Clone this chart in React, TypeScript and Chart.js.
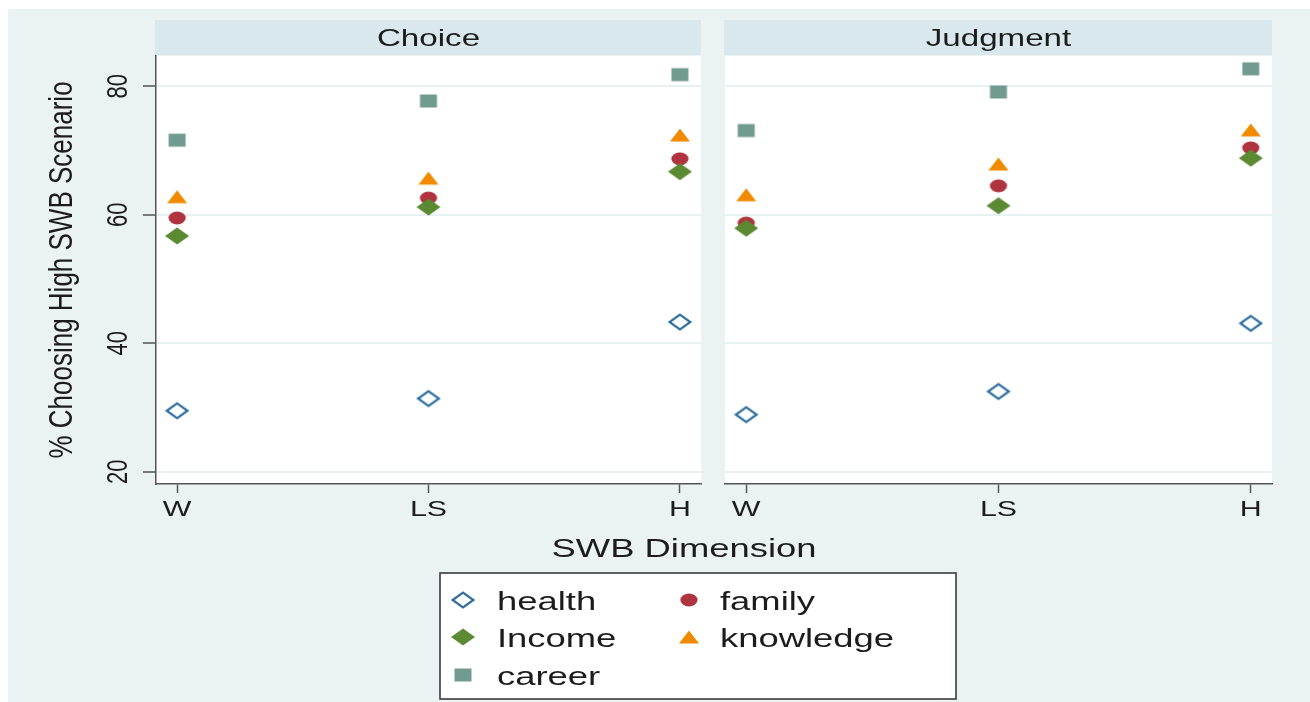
import React, { useEffect, useRef } from 'react';
import { Chart, registerables } from 'chart.js';

Chart.register(...registerables);

// ---------------- data ----------------
const CATEGORIES = ['W', 'LS', 'H'];
const PANELS = ['Choice', 'Judgment'];
const Y_TICKS = [20, 40, 60, 80];
const SERIES_NAMES = ['health', 'family', 'Income', 'knowledge', 'career'];

const CHOICE_HEALTH = [29.5, 31.4, 43.3];
const CHOICE_FAMILY = [59.5, 62.6, 68.7];
const CHOICE_INCOME = [56.7, 61.2, 66.7];
const CHOICE_KNOWLEDGE = [62.8, 65.7, 72.4];
const CHOICE_CAREER = [71.6, 77.7, 81.8];

const JUDGMENT_HEALTH = [28.9, 32.5, 43.1];
const JUDGMENT_FAMILY = [58.7, 64.5, 70.4];
const JUDGMENT_INCOME = [57.9, 61.4, 68.8];
const JUDGMENT_KNOWLEDGE = [63.1, 67.9, 73.2];
const JUDGMENT_CAREER = [73.1, 79.1, 82.7];

const Y_TITLE = '% Choosing High SWB Scenario';
const X_TITLE = 'SWB Dimension';

// ---------------- styles ----------------
const SERIES_COLORS = ['#2f6e9e', '#b0343f', '#5b8a33', '#f28a00', '#729b8f'];
const SERIES_MARKERS = ['hollowDiamond', 'circle', 'diamond', 'triangle', 'square'];
const OUTER_BG = '#eaf3f2';
const HEADER_BG = '#d8e8ed';
const GRID = '#e8f1f1';
const AXIS = '#555555';
const TEXT = '#1c1c1c';
const FONT = '"Liberation Sans", Arial, Helvetica, sans-serif';
const SX = 1.38;

const W = 1310;
const H = 702;
const X_MIN = -0.084;
const X_MAX = 2.084;
const Y_MIN = 18.1;
const Y_MAX = 84.7;

function makeMarker(kind: string, color: string): HTMLCanvasElement {
  const c = document.createElement('canvas');
  c.width = 28;
  c.height = 22;
  const ctx = c.getContext('2d')!;
  const cx = 14;
  const cy = 11;
  ctx.fillStyle = color;
  ctx.strokeStyle = color;
  ctx.beginPath();
  if (kind === 'hollowDiamond') {
    const hw = 10.4, hh = 7.4;
    ctx.lineWidth = 2.2;
    ctx.moveTo(cx, cy - hh);
    ctx.lineTo(cx + hw, cy);
    ctx.lineTo(cx, cy + hh);
    ctx.lineTo(cx - hw, cy);
    ctx.closePath();
    ctx.stroke();
  } else if (kind === 'diamond') {
    const hw = 12, hh = 8.6;
    ctx.moveTo(cx, cy - hh);
    ctx.lineTo(cx + hw, cy);
    ctx.lineTo(cx, cy + hh);
    ctx.lineTo(cx - hw, cy);
    ctx.closePath();
    ctx.fill();
  } else if (kind === 'circle') {
    ctx.ellipse(cx, cy, 8.6, 6.4, 0, 0, Math.PI * 2);
    ctx.fill();
  } else if (kind === 'triangle') {
    ctx.moveTo(cx, cy - 6.6);
    ctx.lineTo(cx + 10, cy + 6.6);
    ctx.lineTo(cx - 10, cy + 6.6);
    ctx.closePath();
    ctx.fill();
  } else {
    ctx.rect(cx - 8.5, cy - 6.5, 17, 13);
    ctx.fill();
  }
  return c;
}

function drawText(
  ctx: CanvasRenderingContext2D,
  s: string,
  x: number,
  y: number,
  size: number,
  align: CanvasTextAlign = 'center',
  rotated = false,
  sx = SX
) {
  ctx.save();
  ctx.translate(x, y);
  if (rotated) {
    ctx.rotate(-Math.PI / 2);
    ctx.scale(1, sx);
  } else {
    ctx.scale(sx, 1);
  }
  ctx.font = `${size}px ${FONT}`;
  ctx.fillStyle = TEXT;
  ctx.textAlign = align;
  ctx.textBaseline = 'alphabetic';
  ctx.fillText(s, 0, 0);
  ctx.restore();
}

function panelPlugin(title: string, isFirst: boolean, markers: HTMLCanvasElement[]) {
  return {
    id: 'panel' + title,
    beforeDraw(chart: any) {
      const ctx: CanvasRenderingContext2D = chart.ctx;
      const a = chart.chartArea;
      ctx.save();
      if (isFirst) {
        ctx.fillStyle = '#ffffff';
        ctx.fillRect(0, 0, chart.width, chart.height);
        ctx.fillStyle = OUTER_BG;
        ctx.fillRect(8, 9, chart.width - 8, chart.height - 9);
      }
      ctx.fillStyle = HEADER_BG;
      ctx.fillRect(a.left - 1, 20, a.right - a.left + 1, 35);
      ctx.fillStyle = '#ffffff';
      ctx.fillRect(a.left, a.top, a.right - a.left, a.bottom - a.top);
      ctx.restore();
    },
    afterDraw(chart: any) {
      const ctx: CanvasRenderingContext2D = chart.ctx;
      const a = chart.chartArea;
      const xs = chart.scales.x;
      const ys = chart.scales.y;
      drawText(ctx, title, (a.left + a.right) / 2, 46, 24);
      xs.ticks.forEach((t: any) => {
        const px = xs.getPixelForValue(t.value);
        drawText(ctx, CATEGORIES[Math.round(t.value)], px, 516, 22);
      });
      if (!isFirst) return;
      ys.ticks.forEach((t: any) => {
        const py = ys.getPixelForValue(t.value);
        drawText(ctx, String(t.value), 127, py, 22, 'center', true);
      });
      drawText(ctx, Y_TITLE, 72, (a.top + a.bottom) / 2, 26, 'center', true, 1.25);
      drawText(ctx, X_TITLE, 684, 557, 26, 'center', false, 1.4);

      // legend box
      const bx = 440, by = 573, bw = 516, bh = 126;
      ctx.save();
      ctx.fillStyle = '#ffffff';
      ctx.fillRect(bx, by, bw, bh);
      ctx.strokeStyle = '#3a3a3a';
      ctx.lineWidth = 1.6;
      ctx.strokeRect(bx, by, bw, bh);
      ctx.restore();
      const cols = [463, 689];
      const textCols = [497, 720];
      const rows = [600, 637, 675];
      SERIES_NAMES.forEach((name, i) => {
        const col = i % 2;
        const row = Math.floor(i / 2);
        const m = markers[i];
        ctx.drawImage(m, cols[col] - m.width / 2, rows[row] - m.height / 2);
        drawText(ctx, name, textCols[col], rows[row] + 10, 26, 'left', false, 1.4);
      });
    },
  };
}

function buildConfig(
  panelIndex: number,
  values: number[][],
  markers: HTMLCanvasElement[],
  pad: { left: number; right: number }
) {
  const isFirst = panelIndex === 0;
  return {
    type: 'scatter' as const,
    data: {
      datasets: SERIES_NAMES.map((name, i) => ({
        label: name,
        data: CATEGORIES.map((_, j) => ({ x: j, y: values[i][j] })),
        pointStyle: markers[i],
        pointRadius: 10,
        pointHoverRadius: 10,
        backgroundColor: SERIES_COLORS[i],
        borderColor: SERIES_COLORS[i],
        showLine: false,
        order: SERIES_NAMES.length - i,
      })),
    },
    options: {
      animation: false,
      responsive: false,
      devicePixelRatio: 1,
      events: [],
      layout: { padding: { top: 56, left: pad.left, right: pad.right, bottom: 0 } },
      plugins: { legend: { display: false }, tooltip: { enabled: false }, title: { display: false } },
      scales: {
        x: {
          type: 'linear',
          min: X_MIN,
          max: X_MAX,
          afterBuildTicks: (s: any) => {
            s.ticks = CATEGORIES.map((_, j) => ({ value: j }));
          },
          afterFit: (s: any) => {
            s.height = H - 484;
          },
          ticks: { display: false },
          grid: {
            display: true,
            drawOnChartArea: false,
            drawTicks: true,
            tickLength: 9,
            tickColor: AXIS,
            tickWidth: 1.5,
          },
          border: { display: true, color: AXIS, width: 1.5 },
        },
        y: {
          type: 'linear',
          min: Y_MIN,
          max: Y_MAX,
          afterBuildTicks: (s: any) => {
            s.ticks = Y_TICKS.map((v) => ({ value: v }));
          },
          afterFit: (s: any) => {
            s.width = isFirst ? 156 : 0;
          },
          ticks: { display: false },
          grid: {
            color: GRID,
            lineWidth: 2,
            drawTicks: isFirst,
            tickLength: 13,
            tickColor: AXIS,
            tickWidth: 1.5,
          },
          border: { display: isFirst, color: AXIS, width: 1.5 },
        },
      },
    },
    plugins: [panelPlugin(PANELS[panelIndex], isFirst, markers)],
  };
}

export default function App() {
  const ref1 = useRef<HTMLCanvasElement>(null);
  const ref2 = useRef<HTMLCanvasElement>(null);

  useEffect(() => {
    const markers = SERIES_MARKERS.map((k, i) => makeMarker(k, SERIES_COLORS[i]));
    const choice = [CHOICE_HEALTH, CHOICE_FAMILY, CHOICE_INCOME, CHOICE_KNOWLEDGE, CHOICE_CAREER];
    const judgment = [JUDGMENT_HEALTH, JUDGMENT_FAMILY, JUDGMENT_INCOME, JUDGMENT_KNOWLEDGE, JUDGMENT_CAREER];
    const c1 = new Chart(ref1.current!, buildConfig(0, choice, markers, { left: 0, right: W - 701 }) as any);
    const c2 = new Chart(ref2.current!, buildConfig(1, judgment, markers, { left: 12, right: 38 }) as any);
    return () => {
      c1.destroy();
      c2.destroy();
    };
  }, []);

  return (
    <div style={{ position: 'fixed', left: 0, top: 0, width: W, height: H, background: '#fff', overflow: 'hidden' }}>
      <canvas ref={ref1} width={W} height={H} style={{ position: 'absolute', left: 0, top: 0, width: W, height: H }} />
      <canvas ref={ref2} width={597} height={H} style={{ position: 'absolute', left: 713, top: 0, width: 597, height: H }} />
    </div>
  );
}
